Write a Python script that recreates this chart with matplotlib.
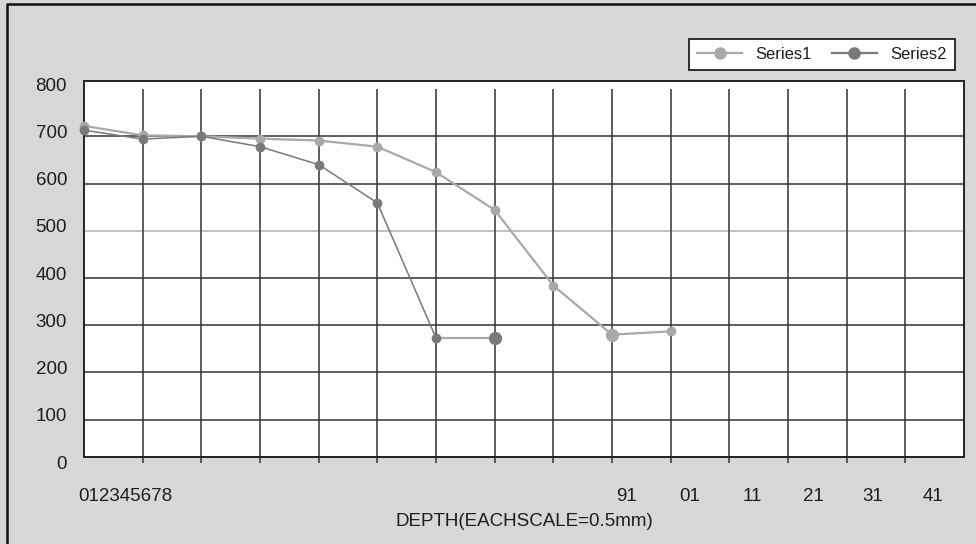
import matplotlib
matplotlib.use("Agg")
import matplotlib.pyplot as plt
from matplotlib.lines import Line2D

plt.rcParams['font.family'] = ['Liberation Sans', 'DejaVu Sans']

# depth index (each step = 0.5 mm)
depth_s1 = [0, 1, 2, 3, 4, 5, 6, 7, 8, 9, 10]
series1 = [722, 702, 700, 695, 691, 678, 624, 544, 384, 280, 287]
depth_s2 = [0, 1, 2, 3, 4, 5, 6, 7]
series2 = [713, 694, 700, 678, 640, 559, 273, 273]

y_ticks = [0, 100, 200, 300, 400, 500, 600, 700, 800]
x_tick_labels = ["012345678", "91", "01", "11", "21", "31", "41"]
x_tick_pos = [0.71, 9.24, 10.33, 11.39, 12.43, 13.45, 14.47]

BG = "#d8d6d9"
C1 = "#a9a9ad"
C2 = "#78787d"
GRID = "#333333"
TXT = "#1e1e1e"

W, H = 976, 544
fig = plt.figure(figsize=(W / 100, H / 100), dpi=100, facecolor=BG)
ax = fig.add_axes([84 / W, 1 - 457 / H, 880 / W, 376 / H])
ax.set_facecolor("white")
ax.set_xlim(0, 15)
ax.set_ylim(21, 817)

# grid
for v in y_ticks[1:-1]:
    ax.hlines(v, 0, 15, color="#b0b0b0" if v == 500 else GRID,
              lw=1.1, zorder=1)
ax.vlines(range(1, 15), 21, 800, color=GRID, lw=1.1, zorder=1)

# series
ax.plot(depth_s1, series1, color=C1, lw=1.6, zorder=3)
ax.plot(depth_s2[:7], series2[:7], color=C2, lw=1.1, zorder=4)
ax.plot(depth_s2[6:8], series2[6:8], color=C1, lw=1.6, zorder=4)
s1_sizes = [6, 6, 6, 6, 6, 6, 6, 6, 6, 8.5, 6]
s2_sizes = [6, 6, 6, 6, 6, 6, 6, 8.5]
for x, y, s in zip(depth_s1, series1, s1_sizes):
    ax.plot(x, y, 'o', color=C1, ms=s, mec=C1, zorder=5, clip_on=False)
for x, y, s in zip(depth_s2, series2, s2_sizes):
    ax.plot(x, y, 'o', color=C2, ms=s, mec=C2, zorder=6, clip_on=False)

# axes frame
for sp in ax.spines.values():
    sp.set_color("#222222")
    sp.set_linewidth(1.4)

# x ticks: marks at each depth step, labels placed separately
ax.set_xticks(range(1, 15), minor=True)
ax.tick_params(axis='x', which='minor', length=4, width=1.1, color=GRID,
               direction='out')
ax.set_xticks(x_tick_pos, x_tick_labels)
ax.tick_params(axis='x', which='major', length=0, pad=22, labelsize=13.5,
               labelcolor=TXT)
ax.set_yticks([])

# y labels
for v in y_ticks:
    ax.text(-0.0193, v + 6, str(v), transform=ax.get_yaxis_transform(),
            ha='right', va='center', fontsize=13.5, color=TXT,
            clip_on=False)

fig.text((84 + 440) / W, 1 - 522 / H, "DEPTH(EACHSCALE=0.5mm)",
         ha='center', va='center', fontsize=13.5, color=TXT)

# legend
handles = [Line2D([], [], color=C1, lw=1.6, marker='o', ms=8, mec=C1),
           Line2D([], [], color=C2, lw=1.6, marker='o', ms=8, mec=C2)]
leg = fig.legend(handles, ["Series1", "Series2"], ncol=2,
                 loc='center', bbox_to_anchor=((683 + 961) / 2 / W, 1 - 54.5 / H),
                 fontsize=12, frameon=True, fancybox=False, framealpha=1,
                 edgecolor="#111111", handlelength=2.7, handletextpad=0.8,
                 columnspacing=1.2, borderpad=0.5)
leg.get_frame().set_linewidth(1.2)
for t in leg.get_texts():
    t.set_color(TXT)

# outer border (top and left)
fig.add_artist(Line2D([7 / W, 7 / W, 1], [0, 1 - 4 / H, 1 - 4 / H],
                      transform=fig.transFigure, color="#111111", lw=1.8))

fig.savefig("out.png", dpi=100, facecolor=BG)
